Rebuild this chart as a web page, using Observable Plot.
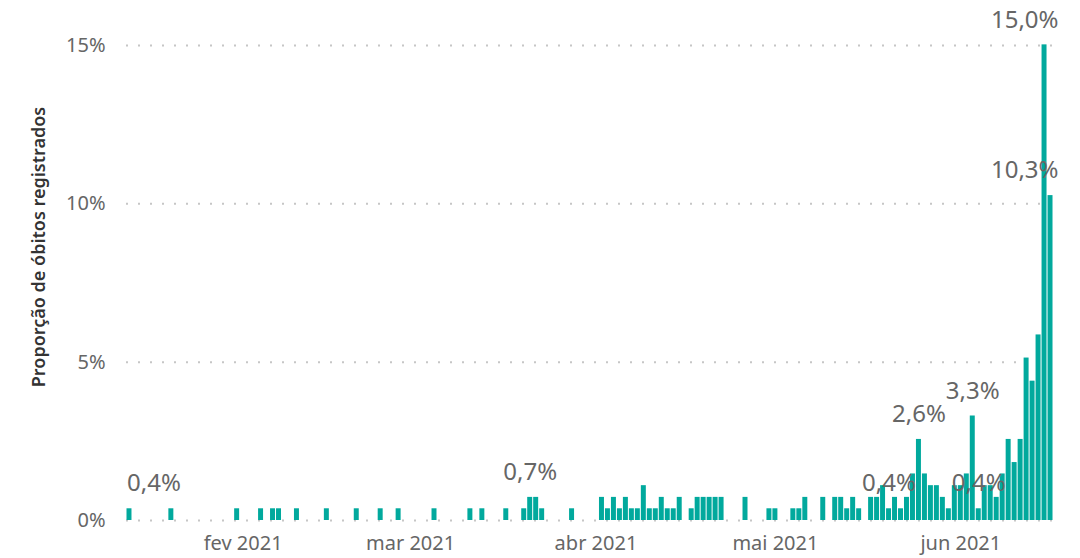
<!DOCTYPE html>
<html>
<head>
<meta charset="utf-8">
<script src="https://cdn.jsdelivr.net/npm/d3@7"></script>
<script src="https://cdn.jsdelivr.net/npm/@observablehq/plot@0.6"></script>
<style>
  html, body { margin: 0; padding: 0; background: #ffffff; }
  #chart svg { display: block; }
</style>
</head>
<body>
<div id="chart"></div>
<script>
// ---- Data ----
const dates = [
  "2021-01-13","2021-01-20","2021-01-31","2021-02-04","2021-02-06","2021-02-07","2021-02-10",
  "2021-02-15","2021-02-20","2021-02-24","2021-02-27","2021-03-05","2021-03-11","2021-03-13",
  "2021-03-17","2021-03-20","2021-03-21","2021-03-22","2021-03-23","2021-03-28",
  "2021-04-02","2021-04-03","2021-04-04","2021-04-05","2021-04-06","2021-04-07","2021-04-08",
  "2021-04-09","2021-04-10","2021-04-11","2021-04-12","2021-04-13","2021-04-14","2021-04-15",
  "2021-04-17","2021-04-18","2021-04-19","2021-04-20","2021-04-21","2021-04-22","2021-04-26",
  "2021-04-30","2021-05-01","2021-05-04","2021-05-05","2021-05-06","2021-05-09","2021-05-11",
  "2021-05-12","2021-05-13","2021-05-14","2021-05-15","2021-05-17","2021-05-18","2021-05-19",
  "2021-05-20","2021-05-21","2021-05-22","2021-05-23","2021-05-24","2021-05-25","2021-05-26",
  "2021-05-27","2021-05-28","2021-05-29","2021-05-30","2021-05-31","2021-06-01","2021-06-02",
  "2021-06-03","2021-06-04","2021-06-05","2021-06-06","2021-06-07","2021-06-08","2021-06-09",
  "2021-06-10","2021-06-11","2021-06-12","2021-06-13","2021-06-14","2021-06-15","2021-06-16"
];
// proportion of registered deaths, in percent
const values = [
  0.37,0.37,0.37,0.37,0.37,0.37,0.37,
  0.37,0.37,0.37,0.37,0.37,0.37,0.37,
  0.37,0.37,0.73,0.73,0.37,0.37,
  0.73,0.37,0.73,0.37,0.73,0.37,0.37,
  1.10,0.37,0.37,0.73,0.37,0.37,0.73,
  0.37,0.73,0.73,0.73,0.73,0.73,0.73,
  0.37,0.37,0.37,0.37,0.73,0.73,0.73,
  0.73,0.37,0.73,0.37,0.73,0.73,1.10,
  0.37,0.73,0.37,0.73,1.47,2.56,1.47,
  1.10,1.10,0.73,0.37,1.10,1.10,1.47,
  3.30,0.37,1.10,1.10,0.73,1.47,2.56,
  1.83,2.56,5.13,4.40,5.86,15.02,10.26
];
// bars that carry a data label in the reference
const labelDates = ["2021-01-13","2021-03-21","2021-05-20","2021-05-25","2021-06-03","2021-06-04","2021-06-15","2021-06-16"];
const yTicks = [0, 5, 10, 15];
const monthTicks = ["2021-02-01","2021-03-01","2021-04-01","2021-05-01","2021-06-01"];
const monthNames = ["jan","fev","mar","abr","mai","jun","jul","ago","set","out","nov","dez"];
const xDomain = ["2021-01-12T12:00:00Z","2021-06-17T00:00:00Z"];
const yTitle = "Proporção de óbitos registrados";

// ---- Build table ----
const data = dates.map((d, i) => ({date: d3.isoParse(d), value: values[i]}));
const labelSet = new Set(labelDates);
const labelled = data.filter((d, i) => labelSet.has(dates[i]));
const domainStart = d3.isoParse(xDomain[0]);
const domainEnd = d3.isoParse(xDomain[1]);
const dayMs = 864e5;
// labels too close to the frame edges are clamped inside it (as the original does)
const leftLabels = labelled.filter(d => d.date - domainStart < 3 * dayMs);
const rightLabels = labelled.filter(d => domainEnd - d.date < 3 * dayMs);
const midLabels = labelled.filter(d => !leftLabels.includes(d) && !rightLabels.includes(d));

const fmt = v => d3.format(".1f")(v).replace(".", ",") + "%";

const teal = "#01A99D";
const labelColor = "#666666";
const font = "'Noto Sans', 'Open Sans', sans-serif";

const chart = Plot.plot({
  width: 1080,
  height: 558,
  marginLeft: 126,
  marginRight: 24,
  marginTop: 45,
  marginBottom: 38,
  style: {fontFamily: font, fontSize: "20px", color: "#666666", background: "#ffffff"},
  x: {
    type: "utc",
    domain: [domainStart, domainEnd],
    ticks: monthTicks.map(d3.isoParse),
    tickFormat: d => monthNames[d.getUTCMonth()] + " " + d.getUTCFullYear(),
    tickSize: 0,
    tickPadding: 15,
    label: null
  },
  y: {
    domain: [0, 15],
    ticks: yTicks,
    tickFormat: d => d + "%",
    tickSize: 0,
    tickPadding: 21,
    label: null
  },
  marks: [
    Plot.ruleY(yTicks, {stroke: "#c6c6c6", strokeWidth: 2, strokeDasharray: "2,10"}),
    Plot.rectY(data, {
      x1: d => d3.utcHour.offset(d.date, -12),
      x2: d => d3.utcHour.offset(d.date, 12),
      y: "value",
      fill: teal,
      insetLeft: 0.5,
      insetRight: 0.5
    }),
    Plot.text(midLabels, {
      x: "date", y: "value", text: d => fmt(d.value),
      dy: -25, lineAnchor: "middle", fontSize: 24, fill: labelColor
    }),
    Plot.text(leftLabels, {
      y: "value", text: d => fmt(d.value), frameAnchor: "left", textAnchor: "start",
      dx: 0.5, dy: -25, lineAnchor: "middle", fontSize: 24, fill: labelColor
    }),
    Plot.text(rightLabels, {
      y: "value", text: d => fmt(d.value), frameAnchor: "right", textAnchor: "end",
      dx: 2, dy: -25, lineAnchor: "middle", fontSize: 24, fill: labelColor
    }),
    Plot.text([yTitle], {
      frameAnchor: "left", textAnchor: "middle", rotate: -90, dx: -87, dy: -36,
      fontSize: 18, fontWeight: 600, fill: "#333333", lineAnchor: "middle"
    })
  ]
});

document.getElementById("chart").appendChild(chart);
</script>
</body>
</html>
